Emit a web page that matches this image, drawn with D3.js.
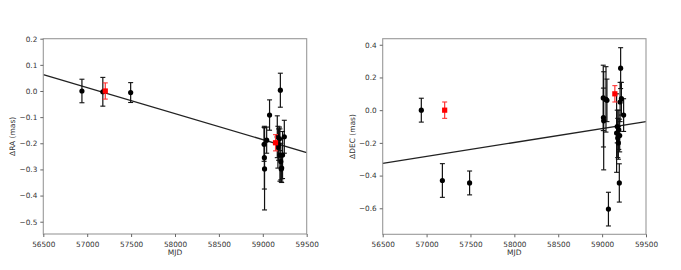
<!DOCTYPE html>
<html><head><meta charset="utf-8">
<script src="https://cdn.jsdelivr.net/npm/d3@7"></script>
<style>body{margin:0;background:#fff}svg{display:block}text{font-family:"DejaVu Sans",sans-serif}</style>
</head><body><div id="c"></div>
<script>
// ---- data ----
const xTicks = [56500,57000,57500,58000,58500,59000,59500];
const raTicks = [-0.5,-0.4,-0.3,-0.2,-0.1,0.0,0.1,0.2];
const decTicks = [-0.6,-0.4,-0.2,0.0,0.2,0.4];

const raMjd = [56940,57178,57495,59015,59018,59020,59044,59077,59165,59172,59180,59190,59195,59200,59205,59210,59215,59225,59245];
const raVal = [0.0,-0.003,-0.006,-0.204,-0.255,-0.298,-0.188,-0.092,-0.175,-0.215,-0.205,-0.183,-0.245,0.003,-0.27,-0.298,-0.295,-0.245,-0.175];
const raErr = [0.045,0.055,0.038,0.065,0.12,0.157,0.05,0.058,0.08,0.08,0.06,0.045,0.1,0.065,0.07,0.05,0.055,0.09,0.063];
const raRedMjd = [57206,59145];
const raRedVal = [0.0,-0.198];
const raRedErr = [0.031,0.031];

const decMjd = [56940,57180,57490,59013,59015,59018,59044,59055,59072,59165,59172,59178,59185,59190,59196,59200,59205,59211,59220,59245];
const decVal = [0.0,-0.43,-0.445,0.075,-0.045,-0.065,0.066,0.06,-0.605,-0.14,-0.1,-0.17,-0.2,-0.12,-0.445,-0.155,0.05,0.257,0.07,-0.03];
const decErr = [0.073,0.103,0.073,0.2,0.18,0.3,0.2,0.13,0.103,0.24,0.1,0.12,0.1,0.12,0.117,0.1,0.12,0.125,0.1,0.1];
const decRedMjd = [57206,59145];
const decRedVal = [0.0,0.1];
const decRedErr = [0.05,0.05];

const lineMjd = [56500,59500];
const raLine = [0.063,-0.236];
const decLine = [-0.325,-0.07];

// ---- drawing ----
const W=681,H=270;
const svg=d3.select("#c").append("svg").attr("width",W).attr("height",H);
const fmt=d=>(d<0?"\u2212":"")+Math.abs(d).toFixed(1);

function panel(o){
  const x=d3.scaleLinear().domain([56500,59500]).range([o.x0,o.x1]);
  const y=d3.scaleLinear().domain(o.ydom).range([o.y1,o.y0]);
  const g=svg.append("g");
  // fit line
  g.append("path").datum(lineMjd.map((m,i)=>[m,o.line[i]]))
    .attr("d",d3.line().x(d=>x(d[0])).y(d=>y(d[1])))
    .attr("fill","none").attr("stroke","#222").attr("stroke-width",1.3);
  function errs(mj,v,e,col,ecol,square){
    const gg=g.append("g");
    mj.forEach((m,i)=>{
      const cx=x(m);
      gg.append("line").attr("x1",cx).attr("x2",cx).attr("y1",y(v[i]+e[i])).attr("y2",y(v[i]-e[i]))
        .attr("stroke",ecol).attr("stroke-width",1.2);
      [v[i]+e[i],v[i]-e[i]].forEach(t=>gg.append("line").attr("x1",cx-2.5).attr("x2",cx+2.5)
        .attr("y1",y(t)).attr("y2",y(t)).attr("stroke",ecol).attr("stroke-width",1.1));
    });
    mj.forEach((m,i)=>{
      if(square) gg.append("rect").attr("x",x(m)-2.6).attr("y",y(v[i])-2.6).attr("width",5.2).attr("height",5.2).attr("fill",col);
      else gg.append("circle").attr("cx",x(m)).attr("cy",y(v[i])).attr("r",2.6).attr("fill",col);
    });
  }
  errs(o.mjd,o.val,o.err,"#000","#111",false);
  errs(o.rmjd,o.rval,o.rerr,"#f00","#f33",true);
  // axes frame
  g.append("rect").attr("x",o.x0).attr("y",o.y0).attr("width",o.x1-o.x0).attr("height",o.y1-o.y0)
    .attr("fill","none").attr("stroke","#999").attr("stroke-width",1.1);
  const xa=g.append("g").attr("transform",`translate(0,${o.y1})`)
    .call(d3.axisBottom(x).tickValues(xTicks).tickFormat(d3.format("d")).tickSize(3).tickSizeOuter(0));
  const ya=g.append("g").attr("transform",`translate(${o.x0},0)`)
    .call(d3.axisLeft(y).tickValues(o.yticks).tickFormat(fmt).tickSize(3).tickSizeOuter(0));
  [xa,ya].forEach(a=>{a.select(".domain").remove();
    a.selectAll("line").attr("stroke","#666");
    a.selectAll("text").attr("fill","#333").style("font-size","7.3px").style("font-family","DejaVu Sans");});
  xa.selectAll("text").attr("dy","0.9em");
  g.append("text").attr("x",(o.x0+o.x1)/2).attr("y",o.y1+21).attr("text-anchor","middle")
    .attr("fill","#333").style("font-size","7.5px").text("MJD");
  g.append("text").attr("transform",`translate(${o.ylx},${(o.y0+o.y1)/2}) rotate(-90)`)
    .attr("text-anchor","middle").attr("fill","#333").style("font-size","7.5px").text(o.ylab);
}

panel({x0:43.3,x1:306.7,y0:38.7,y1:234,ydom:[-0.547,0.2],yticks:raTicks,line:raLine,
  mjd:raMjd,val:raVal,err:raErr,rmjd:raRedMjd,rval:raRedVal,rerr:raRedErr,ylab:"\u0394RA (mas)",ylx:15});
panel({x0:382.7,x1:646,y0:38.7,y1:234.3,ydom:[-0.759,0.437],yticks:decTicks,line:decLine,
  mjd:decMjd,val:decVal,err:decErr,rmjd:decRedMjd,rval:decRedVal,rerr:decRedErr,ylab:"\u0394DEC (mas)",ylx:355});
</script></body></html>
